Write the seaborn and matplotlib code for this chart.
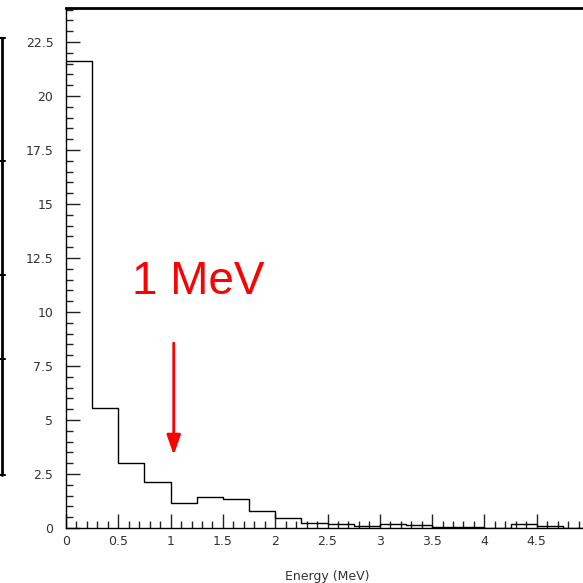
import numpy as np
import matplotlib
matplotlib.use("Agg")
import matplotlib.pyplot as plt
from matplotlib.lines import Line2D
from matplotlib.ticker import MultipleLocator
import seaborn as sns

# Energy spectrum, 0.25 MeV bins
bin_edges = [0.0, 0.25, 0.5, 0.75, 1.0, 1.25, 1.5, 1.75, 2.0, 2.25, 2.5,
             2.75, 3.0, 3.25, 3.5, 3.75, 4.0, 4.25, 4.5, 4.75, 5.0]
counts = [21.6, 5.56, 3.02, 2.14, 1.17, 1.45, 1.36, 0.79, 0.46, 0.25, 0.2,
          0.09, 0.2, 0.13, 0.03, 0.06, 0.0, 0.18, 0.08, 0.02]
x_ticks = [0, 0.5, 1, 1.5, 2, 2.5, 3, 3.5, 4, 4.5]
x_tick_labels = ["0", "0.5", "1", "1.5", "2", "2.5", "3", "3.5", "4", "4.5"]
y_ticks = [0, 2.5, 5, 7.5, 10, 12.5, 15, 17.5, 20, 22.5]
y_tick_labels = ["0", "2.5", "5", "7.5", "10", "12.5", "15", "17.5", "20", "22.5"]
marker_energy = 1.03
arrow_top, arrow_tip = 8.56, 3.38
label_text = "1 MeV"

sns.set_theme(style="white")
plt.rcParams["font.family"] = ["DejaVu Sans"]

W = H = 583
fig = plt.figure(figsize=(W / 100, H / 100), dpi=100)
left, right, top, bottom = 66, 589, 8, 528
ax = fig.add_axes([left / W, 1 - bottom / H, (right - left) / W, (bottom - top) / H])

centers = [(a + b) / 2 for a, b in zip(bin_edges[:-1], bin_edges[1:])]
sns.histplot(x=centers, weights=counts, bins=bin_edges, element="step",
             fill=False, color="black", linewidth=1.0, ax=ax)

ax.set_xlim(0, 5)
ax.set_ylim(0, 24.07)
ax.set_xticks(x_ticks)
ax.set_xticklabels(x_tick_labels)
ax.set_yticks(y_ticks)
ax.set_yticklabels(y_tick_labels)
ax.xaxis.set_minor_locator(MultipleLocator(0.1))
ax.yaxis.set_minor_locator(MultipleLocator(0.5))
ax.tick_params(which="major", direction="in", length=10, width=1, color="#222222",
               labelsize=9, labelcolor="#333333", top=False, right=False,
               bottom=True, left=True)
ax.tick_params(axis="y", which="major", pad=9)
ax.tick_params(axis="x", which="major", pad=5)
ax.tick_params(which="minor", direction="in", length=5, width=1, color="#222222",
               top=False, right=False, bottom=True, left=True)
ax.set_xlabel("Energy (MeV)", fontsize=9, color="#333333", labelpad=16)
ax.set_ylabel("")

for side in ["left", "bottom"]:
    ax.spines[side].set_color("black")
    ax.spines[side].set_linewidth(1.0)
ax.spines["top"].set_color("black")
ax.spines["top"].set_linewidth(2.0)
ax.spines["right"].set_visible(False)

# Marker arrow and label
ax.annotate("", xy=(marker_energy, arrow_tip), xytext=(marker_energy, arrow_top),
            arrowprops=dict(arrowstyle="-|>,head_width=0.35,head_length=1.0",
                            color="red", lw=2, shrinkA=0, shrinkB=0))
ax.text(1.26, 11.4, label_text, color="red", fontsize=33, ha="center", va="center",
        family=["Liberation Sans", "DejaVu Sans"])

# Stray frame segment at the left edge
seg_x = 1.5 / W
fig.add_artist(Line2D([seg_x, seg_x], [1 - 38 / H, 1 - 475 / H], color="black", lw=2))
for yy in [38, 161, 275, 359, 475]:
    fig.add_artist(Line2D([0, 5 / W], [1 - yy / H, 1 - yy / H], color="black", lw=1.5))

fig.savefig("out.png", dpi=100)
